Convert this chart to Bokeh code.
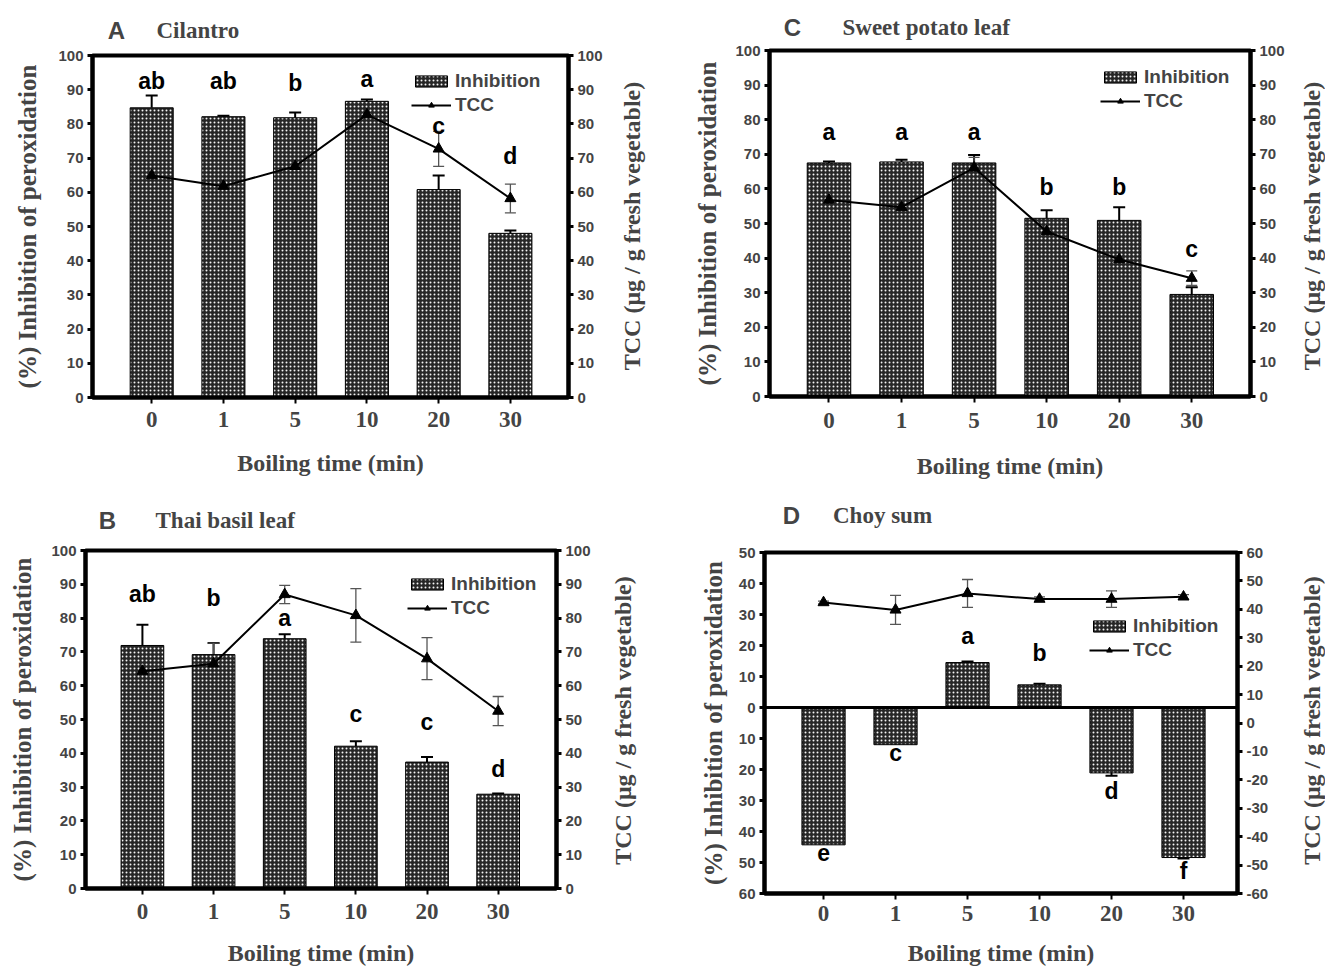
from bokeh.plotting import figure
from bokeh.models import (Range1d, LinearAxis, FixedTicker, ColumnDataSource, Whisker,
                          TeeHead, Legend, LegendItem, Label, Span)
from bokeh.layouts import column, row
from bokeh.embed import file_html
from bokeh.resources import INLINE
from bokeh.core.properties import value

# ---------------- data ----------------
times = ["0", "1", "5", "10", "20", "30"]

# A  Cilantro
a_inh = [84.7, 82.1, 81.8, 86.6, 60.8, 48.0]
a_inh_err = [3.6, 0.3, 1.5, 0.5, 4.1, 0.8]
a_tcc = [64.9, 61.8, 67.6, 82.7, 72.7, 58.2]
a_tcc_err = [5.3, 6.1, 3.0, 2.5, 5.1, 4.2]
a_letters = ["ab", "ab", "b", "a", "c", "d"]
a_letter_y = [92.4, 92.4, 92.0, 93.0, 79.5, 70.7]

# B  Thai basil leaf
b_inh = [71.9, 69.2, 73.9, 42.1, 37.4, 27.9]
b_inh_err = [6.1, 3.4, 1.3, 1.5, 1.5, 0.2]
b_tcc = [64.3, 66.5, 87.0, 80.8, 68.0, 52.5]
b_tcc_err = [3.5, 6.1, 2.7, 7.9, 6.2, 4.3]
b_letters = ["ab", "b", "a", "c", "c", "d"]
b_letter_y = [87.2, 86.0, 80.1, 51.5, 49.3, 35.5]

# C  Sweet potato leaf
c_inh = [67.5, 67.8, 67.5, 51.5, 50.9, 29.5]
c_inh_err = [0.4, 0.6, 2.3, 2.3, 3.8, 2.1]
c_tcc = [56.8, 54.7, 66.1, 47.7, 39.6, 34.2]
c_tcc_err = [3.6, 2.2, 3.0, 2.7, 4.1, 2.1]
c_letters = ["a", "a", "a", "b", "b", "c"]
c_letter_y = [76.4, 76.4, 76.4, 60.5, 60.5, 42.7]

# D  Choy sum
d_inh = [-44.3, -12.0, 14.5, 7.3, -21.1, -48.4]
d_inh_err = [0.0, 0.0, 0.3, 0.4, 0.9, 0.3]
d_tcc = [42.4, 39.8, 45.6, 43.6, 43.6, 44.4]
d_tcc_err = [0.5, 5.1, 4.9, 0.8, 2.9, 0.8]
d_letters = ["e", "c", "a", "b", "d", "f"]
d_letter_y = [-46.8, -14.8, 23.1, 17.7, -26.9, -52.7]

left_ticks_100 = list(range(0, 101, 10))
left_ticks_d = list(range(-60, 51, 10))
right_ticks_d = list(range(-60, 61, 10))

SANS = "Liberation Sans"
SERIF = "Liberation Serif"
TCC_LABEL = "TCC (\u03bcg / g fresh vegetable)"


def header(W, H, frame_w, letter, lx, name, nx, ty):
    # header strip; its frame is aligned with the panel frame below it
    h = figure(width=W, height=H, x_range=Range1d(0, frame_w), y_range=Range1d(0, H),
               output_backend="svg", toolbar_location=None,
               x_axis_location=None, y_axis_location=None,
               min_border_left=0, min_border_right=0, min_border_top=0,
               min_border_bottom=0)
    h.grid.visible = False
    h.outline_line_color = None
    h.add_layout(Label(x=lx, y=ty, text=letter, text_font=SANS, text_font_style="bold",
                       text_font_size="24px", text_align="center",
                       text_baseline="middle"))
    h.add_layout(Label(x=nx, y=ty, text=name, text_font=SERIF, text_font_style="bold",
                       text_font_size="23px", text_align="left",
                       text_baseline="middle"))
    return h


def side(W, H, bt, bb, stand):
    # narrow strip carrying the right-hand axis title, reading upwards
    s = figure(width=W, height=H, x_range=Range1d(0, 1), y_range=Range1d(0, 1),
               output_backend="svg", toolbar_location=None, x_axis_location=None,
               min_border_left=W - 1, min_border_right=0, min_border_top=bt,
               min_border_bottom=bb)
    s.grid.visible = False
    s.outline_line_color = None
    ax = s.yaxis[0]
    ax.ticker = FixedTicker(ticks=[])
    ax.axis_line_color = None
    ax.major_tick_out = 0
    ax.major_tick_in = 0
    ax.minor_tick_out = 0
    ax.minor_tick_in = 0
    ax.major_label_standoff = 0
    ax.axis_label = TCC_LABEL
    ax.axis_label_text_font = SERIF
    ax.axis_label_text_font_style = "bold"
    ax.axis_label_text_font_size = "24px"
    ax.axis_label_standoff = stand
    return s


def make_panel(inh, inh_err, tcc, tcc_err, letters, letter_y,
               W, H, bl, br, bt, bb, xr, yl, yr, lticks, rticks,
               lstand, xtick_stand, xlab_stand, leg_loc,
               loverride=None, roverride=None, zero_line=False):
    p = figure(width=W, height=H, x_range=Range1d(*xr), y_range=Range1d(*yl),
               output_backend="svg", toolbar_location=None,
               min_border_left=bl, min_border_right=br, min_border_top=bt,
               min_border_bottom=bb)
    p.extra_y_ranges = {"tcc": Range1d(*yr)}
    p.xgrid.visible = False
    p.ygrid.visible = False
    p.outline_line_color = "black"
    p.outline_line_width = 4
    p.outline_line_alpha = 1
    p.background_fill_color = "white"
    p.border_fill_color = "white"

    idx = list(range(len(times)))

    # bars
    bars = p.vbar(x=idx, top=inh, bottom=0, width=0.6,
                  fill_color="#262626", line_color="black", line_width=1,
                  hatch_pattern="dot", hatch_color="white", hatch_scale=4,
                  hatch_weight=2.6, hatch_alpha=0.95)

    # bar error bars (outward only)
    ex, eb, eu = [], [], []
    for i, (v, e) in enumerate(zip(inh, inh_err)):
        if e > 0:
            ex.append(i)
            eb.append(v)
            eu.append(v + e if v >= 0 else v - e)
    esrc = ColumnDataSource(dict(x=ex, lower=eb, upper=eu))
    p.add_layout(Whisker(source=esrc, base="x", lower="lower", upper="upper",
                         line_color="black", line_width=2,
                         upper_head=TeeHead(size=12, line_width=2, line_color="black"),
                         lower_head=None))

    if zero_line:
        p.add_layout(Span(location=0, dimension="width", line_color="black",
                          line_width=3))

    # TCC line with error bars
    tsrc = ColumnDataSource(dict(x=idx, y=tcc,
                                 lo=[t - e for t, e in zip(tcc, tcc_err)],
                                 hi=[t + e for t, e in zip(tcc, tcc_err)]))
    p.add_layout(Whisker(source=tsrc, base="x", lower="lo", upper="hi",
                         y_range_name="tcc", line_color="#555555", line_width=1.3,
                         upper_head=TeeHead(size=11, line_width=1.3, line_color="#555555"),
                         lower_head=TeeHead(size=11, line_width=1.3, line_color="#555555")))
    ln = p.line("x", "y", source=tsrc, y_range_name="tcc", line_color="black",
                line_width=2)
    pts = p.scatter("x", "y", source=tsrc, y_range_name="tcc", marker="triangle",
                    size=11, fill_color="black", line_color="black")

    # significance letters
    p.text(x=idx, y=letter_y, text=letters, text_font=value(SANS),
           text_font_style="bold", text_font_size="23px", text_align="center",
           text_baseline="middle", text_color="black")

    # x axis
    xa = p.xaxis[0]
    xa.ticker = FixedTicker(ticks=idx)
    xa.major_label_overrides = {i: t for i, t in enumerate(times)}
    xa.minor_tick_line_color = None
    xa.major_tick_out = 6
    xa.major_tick_in = 0
    xa.major_tick_line_width = 2
    xa.axis_line_width = 4
    xa.major_label_text_font = SERIF
    xa.major_label_text_font_style = "bold"
    xa.major_label_text_font_size = "23px"
    xa.major_label_standoff = xtick_stand
    xa.axis_label = "Boiling time (min)"
    xa.axis_label_text_font = SERIF
    xa.axis_label_text_font_style = "bold"
    xa.axis_label_text_font_size = "24px"
    xa.axis_label_standoff = xlab_stand

    # left axis
    ya = p.yaxis[0]
    ya.ticker = FixedTicker(ticks=lticks)
    if loverride:
        ya.major_label_overrides = loverride
    ya.minor_tick_line_color = None
    ya.major_tick_out = 5
    ya.major_tick_in = 0
    ya.major_tick_line_width = 3
    ya.axis_line_width = 4
    ya.major_label_text_font = SANS
    ya.major_label_text_font_style = "bold"
    ya.major_label_text_font_size = "15px"
    ya.major_label_standoff = 4
    ya.axis_label = "(%) Inhibition of peroxidation"
    ya.axis_label_text_font = SERIF
    ya.axis_label_text_font_style = "bold"
    ya.axis_label_text_font_size = "25px"
    ya.axis_label_standoff = lstand

    # right axis (ticks and numbers; its title is carried by the side strip)
    ra = LinearAxis(y_range_name="tcc", ticker=FixedTicker(ticks=rticks))
    if roverride:
        ra.major_label_overrides = roverride
    ra.minor_tick_line_color = None
    ra.major_tick_out = 5
    ra.major_tick_in = 0
    ra.major_tick_line_width = 3
    ra.axis_line_width = 4
    ra.major_label_text_font = SANS
    ra.major_label_text_font_style = "bold"
    ra.major_label_text_font_size = "15px"
    ra.major_label_standoff = 4
    p.add_layout(ra, "right")

    # legend
    leg = Legend(items=[LegendItem(label="Inhibition", renderers=[bars]),
                        LegendItem(label="TCC", renderers=[ln, pts])],
                 location=leg_loc, background_fill_alpha=0, border_line_color=None,
                 padding=0, margin=0, spacing=2, glyph_width=40, glyph_height=14,
                 label_height=18, label_standoff=4,
                 label_text_font=SANS, label_text_font_style="bold",
                 label_text_font_size="19px")
    p.add_layout(leg)
    return p


# ---- panel A (top left): column 0..663, header 44, panel 444 ----
hA = header(606, 44, 476, "A", 24, "Cilantro", 64, 14)
pA = make_panel(a_inh, a_inh_err, a_tcc, a_tcc_err, a_letters, a_letter_y,
                606, 444, 92, 38, 11, 91, (-0.825, 5.81), (0, 100), (0, 100),
                left_ticks_100, left_ticks_100, 14, 8, 20, (319, 281))
sA = side(57, 488, 55, 91, 18)

# ---- panel C (top right): column 663..1325, header 40, panel 448 ----
hC = header(625, 40, 481, "C", 23, "Sweet potato leaf", 73, 13.5)
pC = make_panel(c_inh, c_inh_err, c_tcc, c_tcc_err, c_letters, c_letter_y,
                625, 448, 106, 38, 10, 92, (-0.82, 5.81), (0, 100), (0, 100),
                left_ticks_100, left_ticks_100, 11, 10, 22, (331, 284))
sC = side(37, 488, 50, 92, 0)

# ---- panel B (bottom left): header 46, panel 434 ----
hB = header(594, 46, 471, "B", 22, "Thai basil leaf", 70, 14.5)
pB = make_panel(b_inh, b_inh_err, b_tcc, b_tcc_err, b_letters, b_letter_y,
                594, 434, 85, 38, 16, 80, (-0.80, 5.82), (0, 100), (0, 100),
                left_ticks_100, left_ticks_100, 12, 9, 18, (322, 269))
sB = side(69, 480, 62, 80, 27)

# ---- panel D (bottom right): header 42, panel 438 ----
hD = header(609, 42, 473, "D", 27, "Choy sum", 68.5, 15)
pD = make_panel(d_inh, d_inh_err, d_tcc, d_tcc_err, d_letters, d_letter_y,
                609, 438, 101, 35, 22, 75, (-0.82, 5.75), (-60, 50), (-60, 60),
                left_ticks_d, right_ticks_d, 9, 6, 16, (325, 232),
                loverride={t: str(abs(t)) for t in left_ticks_d},
                roverride={t: str(t) for t in right_ticks_d}, zero_line=True)
sD = side(53, 480, 64, 75, 0)

layout = column(row(column(hA, pA), sA, column(hC, pC), sC),
                row(column(hB, pB), sB, column(hD, pD), sD))
open("out.html", "w").write(file_html(layout, INLINE))
